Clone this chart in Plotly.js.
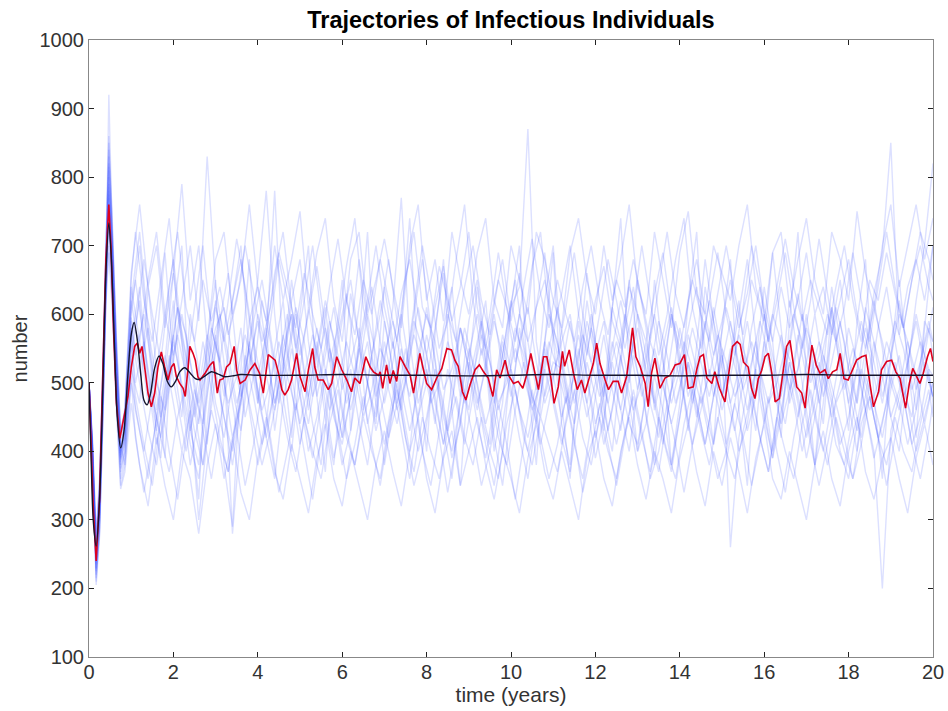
<!DOCTYPE html>
<html>
<head>
<meta charset="utf-8">
<script src="https://cdn.plot.ly/plotly-3.0.1.min.js"></script>
<style>html,body{margin:0;padding:0;background:#fff;}#chart{width:948px;height:711px;}</style>
</head>
<body>
<div id="chart"></div>
<script>
// ---- time grids for stochastic trajectories (years) ----
var tBlue = [0,0.08,0.17,0.25,0.33,0.4,0.47,0.55,0.65,0.75,0.85,1.0,
1.2,1.4,1.6,1.8,2.0,2.2,2.4,2.6,2.8,3.0,
3.2,3.4,3.6,3.8,4.0,4.2,4.4,4.6,4.8,5.0,
5.2,5.4,5.6,5.8,6.0,6.2,6.4,6.6,6.8,7.0,
7.2,7.4,7.6,7.8,8.0,8.2,8.4,8.6,8.8,9.0,
9.2,9.4,9.6,9.8,10.0,10.2,10.4,10.6,10.8,11.0,
11.2,11.4,11.6,11.8,12.0,12.2,12.4,12.6,12.8,13.0,
13.2,13.4,13.6,13.8,14.0,14.2,14.4,14.6,14.8,15.0,
15.2,15.4,15.6,15.8,16.0,16.2,16.4,16.6,16.8,17.0,
17.2,17.4,17.6,17.8,18.0,18.2,18.4,18.6,18.8,19.0,
19.2,19.4,19.6,19.8,20.0];
var tBlue2 = [0,0.08,0.17,0.25,0.33,0.4,0.47,0.55,0.65,0.75,0.85,1.0,
1.1,1.3,1.5,1.7,1.9,2.1,2.3,2.5,2.7,2.9,
3.1,3.3,3.5,3.7,3.9,4.1,4.3,4.5,4.7,4.9,
5.1,5.3,5.5,5.7,5.9,6.1,6.3,6.5,6.7,6.9,
7.1,7.3,7.5,7.7,7.9,8.1,8.3,8.5,8.7,8.9,
9.1,9.3,9.5,9.7,9.9,10.1,10.3,10.5,10.7,10.9,
11.1,11.3,11.5,11.7,11.9,12.1,12.3,12.5,12.7,12.9,
13.1,13.3,13.5,13.7,13.9,14.1,14.3,14.5,14.7,14.9,
15.1,15.3,15.5,15.7,15.9,16.1,16.3,16.5,16.7,16.9,
17.1,17.3,17.5,17.7,17.9,18.1,18.3,18.5,18.7,18.9,
19.1,19.3,19.5,19.7,19.9,20.0];

// ---- stochastic trajectories (number infectious) ----
var blue1 = [500,405,255,320,490,670,790,700,530,400,420,540,
620,480,560,690,530,450,600,520,410,560,
480,620,700,540,470,580,430,520,650,560,
460,540,610,500,420,570,680,590,480,530,
610,770,560,470,520,440,580,640,510,460,
550,620,480,400,530,600,560,490,620,700,
540,470,590,510,420,480,610,560,500,650,
580,460,520,600,530,440,500,640,570,480,
540,620,500,430,560,690,580,470,520,600,
510,440,580,650,540,470,610,560,480,530,
620,540,460,590,560];
var blue2 = [500,395,230,300,470,640,760,660,500,380,410,600,
700,560,430,510,620,480,380,450,560,470,
420,500,580,460,380,440,550,620,490,410,
480,560,470,390,450,520,440,380,470,560,
500,430,360,450,540,480,410,470,580,520,
440,390,470,560,490,420,360,450,520,470,
410,480,550,470,390,450,530,460,400,490,
560,480,420,370,450,530,470,410,480,550,
260,420,490,560,480,400,460,530,470,390,
450,520,470,400,360,440,510,470,420,490,
540,470,400,450,500];
var blue3 = [500,420,280,360,530,710,860,740,560,430,460,640,
560,650,720,600,540,620,700,590,830,640,
560,620,680,590,510,570,660,720,610,540,
600,670,580,520,590,650,560,620,700,610,
550,630,680,600,540,610,670,590,640,720,
610,550,620,680,590,660,560,610,650,580,
630,700,600,540,620,670,590,550,640,600,
560,630,690,600,550,620,680,600,540,590,
650,580,630,700,610,560,640,580,620,690,
600,640,570,620,680,600,550,630,690,850,
570,640,680,620,700];
var blue4 = [500,400,210,290,460,650,920,720,540,410,380,520,
470,640,520,390,600,700,450,330,560,650,
380,290,520,680,470,560,780,530,420,600,
700,480,370,540,650,430,560,720,500,380,
460,590,740,520,400,570,680,460,350,520,
640,530,400,470,610,700,500,380,560,690,
470,360,530,660,560,430,610,740,520,400,
490,650,540,380,470,620,720,500,410,580,
680,460,350,530,640,560,420,590,720,510,
380,470,610,520,430,590,680,480,360,540,
650,530,420,580,700];
var blue5 = [500,410,240,330,500,680,780,680,510,390,440,580,
520,580,500,460,540,600,530,470,520,580,
610,540,480,530,590,510,460,550,600,520,
480,550,620,560,490,530,580,500,450,540,
590,530,480,540,600,560,490,520,580,540,
470,520,590,540,480,560,610,530,470,510,
560,600,520,470,540,590,510,460,530,580,
520,470,550,610,540,480,530,590,520,460,
510,570,530,480,540,600,560,490,520,580,
540,480,530,590,520,470,550,610,560,500,
460,530,590,520,480];
var blue6 = [500,400,260,340,500,650,740,640,490,370,400,560,
640,500,410,480,570,490,410,360,480,570,
500,420,470,590,640,550,470,530,600,500,
440,520,580,490,420,480,560,500,440,590,
520,460,540,610,540,470,410,500,580,520,
460,530,600,520,610,640,870,560,480,530,
520,590,510,450,500,570,490,430,520,600,
540,470,410,490,580,520,450,530,610,540,
470,520,590,510,440,500,570,510,450,530,
600,520,450,500,580,530,460,400,200,430,
480,530,600,540,480];
var blue7 = [500,415,270,350,520,700,830,710,550,420,450,620,
720,580,460,530,660,560,430,380,500,620,
530,280,430,560,650,780,600,480,400,520,
610,540,450,380,500,630,560,440,500,640,
560,470,400,520,610,530,430,360,480,590,
650,550,420,350,460,580,520,610,690,560,
440,380,500,620,540,460,400,530,650,560,
450,380,510,600,520,430,560,680,590,480,
530,600,680,560,450,390,500,620,540,460,
380,520,640,560,470,400,530,620,550,450,
400,520,620,700,820];
var blue8 = [500,390,220,280,450,620,700,620,470,350,380,500,
430,360,450,540,470,400,460,300,420,510,
450,380,470,560,490,420,360,470,550,480,
400,450,520,460,380,430,510,560,470,410,
480,550,470,400,450,520,470,390,440,530,
480,410,350,440,520,460,400,470,550,480,
420,370,450,530,480,410,460,540,470,400,
440,510,460,380,450,530,470,410,480,540,
470,400,440,520,460,390,450,530,480,420,
470,540,480,410,450,520,460,390,440,510,
470,410,460,530,480];
var blue9 = [500,400,245,315,485,660,810,690,520,395,430,590,
560,470,520,600,680,570,500,440,530,610,
560,490,430,520,600,550,470,520,620,680,
560,480,540,610,530,460,520,600,540,470,
530,600,520,450,500,580,660,560,480,540,
600,530,470,540,620,560,490,440,520,580,
530,460,510,590,540,480,550,620,560,490,
540,600,530,470,520,580,640,550,480,530,
590,520,460,520,600,540,480,550,630,560,
490,550,610,540,470,520,580,530,470,540,
600,560,490,540,610];
var blue10 = [500,405,235,305,475,645,775,675,505,385,415,570,
500,430,380,470,560,500,430,490,570,520,
450,400,480,550,480,420,490,570,510,440,
500,580,520,450,410,480,550,500,430,480,
560,490,430,490,570,510,450,400,470,550,
500,440,490,570,520,460,420,480,560,510,
450,500,570,510,440,490,560,500,440,410,
480,550,500,440,490,570,520,460,410,480,
550,500,430,480,560,500,440,490,570,510,
450,400,470,540,490,430,480,560,510,450,
490,560,510,440,500];
var blue17 = [500,418,275,355,525,705,840,730,555,428,462,660,
760,640,700,580,660,790,620,700,560,680,
720,600,650,760,640,590,700,620,680,750,
610,690,740,620,560,680,720,600,650,710,
640,580,700,760,620,680,590,720,650,600,
690,740,620,580,700,650,600,720,680,620,
580,690,740,650,600,700,620,680,760,640,
600,720,650,580,690,750,630,600,700,660,
620,700,760,640,590,690,720,610,680,740,
650,600,720,680,620,750,660,610,700,760,
640,700,760,680,740];
var blue18 = [500,388,205,275,445,615,690,610,460,345,370,470,
380,320,420,350,300,400,360,280,380,440,
360,420,340,300,390,450,370,330,410,360,
310,390,440,360,320,400,350,300,380,430,
370,320,400,450,360,310,390,430,350,400,
450,380,330,400,360,310,390,440,370,330,
400,350,300,390,430,360,320,400,450,380,
330,400,360,310,390,440,370,320,400,350,
420,370,310,390,440,360,330,400,350,300,
380,430,360,320,400,450,370,330,390,420,
360,310,390,440,380];
var blue11 = [500,398,225,310,480,655,820,705,525,405,440,610,
650,560,470,390,520,610,540,460,380,500,
590,660,540,450,510,620,560,470,530,600,
520,440,380,490,570,630,540,460,540,620,
560,470,520,600,680,580,490,430,510,580,
530,460,410,500,580,650,560,480,450,520,
610,540,470,530,600,520,430,500,580,640,
550,470,420,510,590,540,470,540,620,560,
480,430,500,580,640,560,490,440,520,600,
540,470,530,610,560,480,420,500,580,640,
560,490,450,530,590,560];
var blue12 = [500,402,250,325,495,665,770,690,515,392,425,575,
480,410,350,450,540,470,400,470,560,490,
420,370,460,540,480,410,460,530,600,520,
450,390,470,550,500,430,380,460,540,480,
420,470,550,480,400,350,430,520,470,410,
480,550,490,420,380,460,530,480,410,470,
540,480,410,360,440,520,470,410,470,540,
490,420,370,450,530,480,410,460,520,470,
410,470,540,490,420,370,450,520,470,400,
460,530,480,410,380,450,520,480,420,470,
530,480,410,450,520,470];
var blue13 = [500,412,265,345,515,690,850,725,545,425,455,650,
720,620,560,650,740,600,520,610,700,580,
530,620,710,640,560,500,590,680,620,550,
620,700,600,530,580,670,740,610,540,600,
680,590,520,610,700,630,550,590,680,760,
620,540,600,690,610,530,580,670,720,600,
540,610,690,600,530,600,680,620,550,610,
700,620,540,600,680,740,610,550,620,690,
600,540,610,700,640,560,620,690,610,550,
620,710,630,560,610,690,620,560,640,720,
640,580,650,720,680,650];
var blue14 = [500,392,215,285,455,630,730,640,480,360,390,510,
420,340,410,480,400,330,420,490,430,360,
440,510,430,350,410,490,420,340,400,470,
400,330,420,500,430,360,410,480,410,350,
430,500,420,350,400,480,420,340,410,480,
420,350,400,470,410,330,410,490,420,360,
410,480,420,340,400,470,410,350,420,490,
430,360,400,470,410,340,410,480,420,360,
400,470,420,350,410,480,400,340,420,480,
410,350,410,470,420,360,410,480,420,350,
420,480,410,360,430,470];
var blue15 = [500,408,242,318,488,662,800,695,522,398,432,595,
540,600,520,450,530,610,570,490,440,530,
600,540,470,520,590,650,570,490,540,610,
560,480,520,590,540,470,510,580,640,560,
490,440,510,590,550,480,520,600,560,480,
530,590,530,460,510,580,540,470,520,600,
560,490,440,510,580,530,470,530,600,550,
480,520,590,540,470,520,580,530,480,540,
610,560,490,530,590,540,470,520,600,560,
500,540,600,560,490,530,590,540,480,530,
590,550,490,530,580,540];
var blue16 = [500,403,238,312,482,650,785,680,512,388,418,565,
500,560,480,420,490,570,510,450,510,580,
530,470,510,570,520,460,500,560,510,460,
510,570,520,460,500,560,510,450,490,550,
520,460,500,570,530,470,500,560,520,470,
510,570,530,470,500,550,510,460,500,560,
520,470,510,570,530,480,510,560,510,460,
500,560,520,470,510,560,520,470,510,570,
530,480,510,560,520,470,500,550,520,470,
510,560,520,470,500,550,510,460,500,560,
520,480,510,560,520,510];
var blue19 = [500,410,258,338,505,682,815,705,535,410,445,620,
580,680,600,530,640,720,610,560,650,590,
640,570,620,700,630,560,610,690,640,580,
660,600,550,640,710,620,570,650,600,680,
620,560,650,720,610,580,670,620,560,640,
700,620,570,650,610,560,640,710,630,580,
650,600,560,640,700,620,570,650,610,680,
620,560,640,720,630,580,650,600,560,630,
700,630,570,650,610,560,640,710,640,590,
650,610,570,640,700,620,560,650,620,690,
630,580,650,700,640,620];
var blue20 = [500,394,228,298,468,638,748,650,495,375,400,540,
460,400,480,420,370,450,500,430,380,460,
410,370,450,500,440,380,430,490,420,370,
450,400,360,440,490,420,380,450,400,360,
440,490,420,370,450,400,360,430,480,420,
380,450,400,360,440,490,420,380,450,410,
370,440,490,420,380,450,400,360,430,480,
420,370,450,400,360,440,490,430,380,450,
400,360,430,480,420,370,450,400,360,440,
490,430,380,450,400,360,440,480,420,380,
450,400,370,440,490,450];
var blueSet1 = [blue1,blue2,blue3,blue4,blue5,blue6,blue7,blue8,blue9,blue10,blue17,blue18];
var blueSet2 = [blue11,blue12,blue13,blue14,blue15,blue16,blue19,blue20];

// ---- mean of stochastic runs (red) ----
var tRed = [0,0.05,0.1,0.17,0.25,0.33,0.4,0.47,0.52,0.58,0.65,0.73,
0.845,0.924,1.003,1.082,1.145,1.201,1.256,1.319,1.398,1.477,1.556,1.635,1.714,1.793,1.872,1.951,
2.014,2.07,2.15,2.23,2.28,2.35,2.39,2.465,2.52,2.58,
2.63,2.75,2.87,2.95,3.04,3.10,3.18,3.26,3.34,3.44,3.50,3.58,3.70,3.82,3.93,4.04,4.13,4.25,4.41,4.49,4.57,4.64,4.72,4.80,4.92,5.00,5.12,5.20,5.30,5.35,5.43,5.55,5.67,5.75,5.87,5.99,6.11,6.22,6.30,6.42,6.56,6.66,6.74,6.86,
6.90,6.96,7.05,7.13,7.21,7.29,7.37,7.49,7.61,7.69,7.77,7.84,7.91,8.00,8.12,8.24,8.36,8.48,8.59,8.67,8.75,8.85,8.93,9.03,9.15,9.25,9.35,9.46,9.57,9.66,9.74,9.86,9.94,10.06,10.17,10.28,10.37,10.47,10.55,10.65,10.77,10.85,10.94,11.02,11.12,
11.22,11.27,11.38,11.48,11.57,11.67,11.75,11.83,11.95,12.03,12.11,12.23,12.31,12.42,12.54,12.62,12.74,12.82,12.88,12.96,13.06,13.18,13.25,13.33,13.41,13.53,13.65,13.77,13.89,14.00,14.11,14.20,14.32,14.40,14.48,14.56,14.64,14.76,14.83,14.94,15.07,15.15,15.25,15.36,
15.43,15.51,15.62,15.70,15.78,15.86,15.94,16.02,16.10,16.18,16.26,16.36,16.45,16.53,16.61,16.69,16.77,16.89,16.97,17.05,17.13,17.23,17.32,17.44,17.52,17.62,17.72,17.80,17.89,17.99,18.11,18.19,18.31,18.41,18.51,18.59,18.71,18.78,18.90,19.02,19.12,19.22,19.35,19.44,19.52,19.60,19.69,19.77,19.87,19.94,20.0];
var meanRed = [500,420,320,240,330,520,680,760,700,580,470,419,
455,480,523,553,558,543,553,523,485,465,485,523,545,523,504,523,
528,509,499,492,480,523,553,543,533,509,
504,514,526,531,485,504,506,523,528,553,518,499,504,519,528,514,485,541,533,514,490,482,490,504,543,509,487,519,550,523,504,504,490,499,538,519,504,487,507,499,538,523,516,511,
516,492,526,499,518,502,538,524,511,485,514,543,523,499,490,507,521,550,548,533,524,487,475,497,519,526,516,507,480,519,507,533,511,499,502,492,511,543,519,490,538,538,509,470,494,
546,524,548,514,490,504,485,502,528,558,528,504,490,502,502,485,509,548,580,538,524,499,465,514,536,492,507,511,526,528,541,492,494,519,538,541,507,499,516,492,472,509,553,560,
556,530,523,492,477,506,518,538,543,514,472,477,514,553,562,528,494,485,463,514,555,526,514,519,506,516,519,543,506,504,521,533,538,540,497,465,487,519,531,533,516,506,463,499,521,511,499,514,538,550,531];

// ---- deterministic solution (black) ----
var tDet = [0,0.05,0.1,0.17,0.25,0.33,0.4,0.47,0.53,0.6,0.67,0.75,0.83,0.92,1.0,1.07,1.15,1.23,1.3,1.38,1.46,1.55,1.66,1.75,1.85,1.95,2.05,2.15,2.27,2.4,2.52,2.62,2.75,2.9,3.05,3.2,3.4,3.6,4,5,6,7,8,9,10,11,12,13,14,15,16,17,18,19,20];
var detBlack = [500,390,300,262,330,500,660,733,680,560,450,405,430,510,570,588,560,510,475,468,485,520,539,528,503,494,502,516,522,514,506,505,510,516,513,509,510,512,511,511,512,511,511,510,511,512,511,511,510,511,511,512,511,511,511];

var traces = [];
var blueLine = {color:'rgba(60,85,255,0.18)', width:1.4};
blueSet1.forEach(function(s){
  traces.push({x:tBlue, y:s, type:'scatter', mode:'lines', line:blueLine, hoverinfo:'skip', showlegend:false});
});
blueSet2.forEach(function(s){
  traces.push({x:tBlue2, y:s, type:'scatter', mode:'lines', line:blueLine, hoverinfo:'skip', showlegend:false});
});
traces.push({x:tRed, y:meanRed, type:'scatter', mode:'lines',
  line:{color:'rgb(222,0,30)', width:1.6}, showlegend:false});
traces.push({x:tDet, y:detBlack, type:'scatter', mode:'lines',
  line:{color:'rgb(20,20,45)', width:1.4, shape:'spline', smoothing:0.8}, showlegend:false});

var fontFam = 'Liberation Sans, Arial, Helvetica, sans-serif';
var layout = {
  width:948, height:711,
  margin:{l:89, r:15, t:40, b:54},
  paper_bgcolor:'#fff', plot_bgcolor:'#fff',
  showlegend:false,
  title:{text:'<b>Trajectories of Infectious Individuals</b>', x:0.539, xanchor:'center', y:0.972, yanchor:'middle',
    font:{family:fontFam, size:23.5, color:'#000'}},
  xaxis:{range:[0,20], tickvals:[0,2,4,6,8,10,12,14,16,18,20], ticktext:['0','2','4','6','8','10','12','14','16','18','20'],
    ticks:'inside', ticklen:5, tickcolor:'#222', showline:true, linecolor:'#888', linewidth:1, mirror:'ticks',
    showgrid:false, zeroline:false, tickfont:{family:fontFam, size:20, color:'#333'}, ticklabelstandoff:-3,
    title:{text:'time (years)', font:{family:fontFam, size:21, color:'#333'}, standoff:0}},
  yaxis:{range:[100,1000], tickvals:[100,200,300,400,500,600,700,800,900,1000], ticktext:['100','200','300','400','500','600','700','800','900','1000'],
    ticks:'inside', ticklen:5, tickcolor:'#222', showline:true, linecolor:'#888', linewidth:1, mirror:'ticks',
    showgrid:false, zeroline:false, tickfont:{family:fontFam, size:20, color:'#333'},
    title:{text:'number', font:{family:fontFam, size:20, color:'#333'}, standoff:6}}
};
Plotly.newPlot('chart', traces, layout, {displayModeBar:false, staticPlot:true});
</script>
</body>
</html>
